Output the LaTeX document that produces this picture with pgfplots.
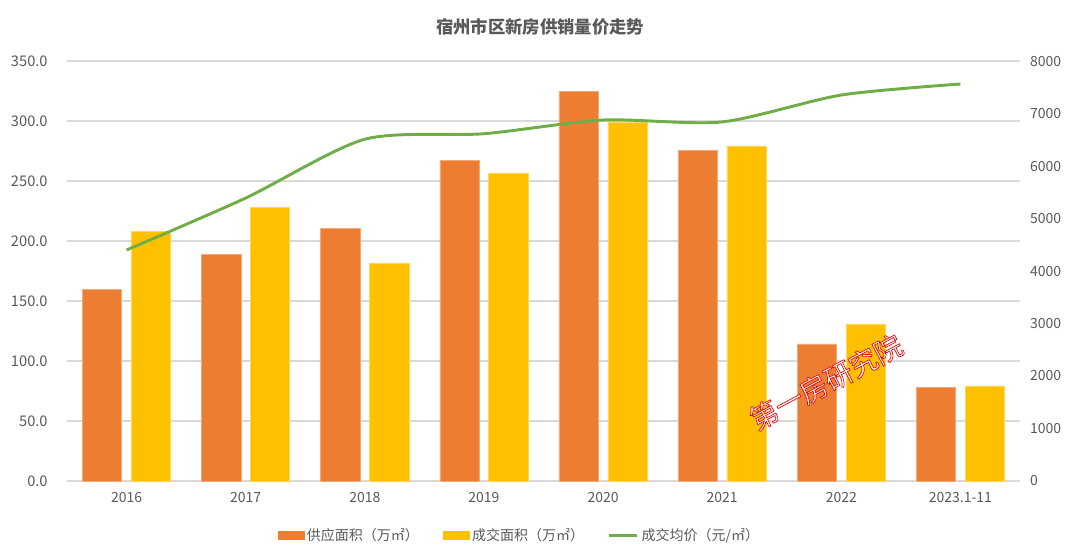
\documentclass[border=0pt]{standalone}
\usepackage{fontspec}
\setmainfont{Noto Sans CJK SC}
\usepackage{pgfplots}
\pgfplotsset{compat=1.18}
\definecolor{supc}{HTML}{ED7D31}
\definecolor{salc}{HTML}{FFC000}
\definecolor{pric}{HTML}{70AD47}
\definecolor{txtc}{HTML}{595959}
\definecolor{gridc}{HTML}{D9D9D9}

\begin{document}
\begin{tikzpicture}[x=0.75pt,y=0.75pt]
\path[use as bounding box] (0,0) rectangle (1080,558);

\pgfplotsset{
  base/.style={
    at={(50.25pt,57.75pt)}, anchor=south west,
    scale only axis, width=714.75pt, height=315pt,
    xmin=-0.5, xmax=7.5, ymin=0,
    major tick length=0pt,
    tick label style={font=\fontsize{10.5}{12}\selectfont, text=txtc},
    /pgf/number format/assume math mode=true,
  },
}

\begin{axis}[base,
  ymax=350,
  axis y line*=left, axis x line*=bottom,
  y axis line style={draw=none},
  x axis line style={draw=gridc, line width=0.8pt, -},
  ytick={0,50,...,350},
  ymajorgrids, grid style={gridc, line width=0.8pt},
  yticklabel style={xshift=-11pt, font=\fontsize{11}{12}\selectfont,
    /pgf/number format/.cd, fixed, fixed zerofill, precision=1},
  xtick={0,...,7},
  xticklabels={2016,2017,2018,2019,2020,2021,2022,2023.1-11},
  xticklabel style={yshift=-5pt},
]
\addplot[ybar, bar width=0.33, bar shift=-0.205, fill=supc, draw=supc!65!white, line width=0.5pt]
  coordinates {(0,159.5) (1,188.5) (2,210.8) (3,267.5) (4,325.0) (5,275.8) (6,114.2) (7,78.3)};
\addplot[ybar, bar width=0.33, bar shift=0.205, fill=salc, draw=salc!65!white, line width=0.5pt]
  coordinates {(0,208.3) (1,227.8) (2,181.7) (3,256.7) (4,299.2) (5,279.2) (6,130.8) (7,79.2)};
\end{axis}

\begin{axis}[base,
  ymax=8000,
  axis y line*=right, axis x line=none,
  y axis line style={draw=none},
  ytick={0,1000,...,8000},
  yticklabel style={xshift=4pt, /pgf/number format/.cd, fixed, 1000 sep={}},
  legend columns=3,
  legend style={at={(0.475,-0.129)}, anchor=center, draw=none, fill=none,
    font=\fontsize{10.5}{12}\selectfont, text=txtc,
    /tikz/every even column/.append style={column sep=16pt}},
]
\addlegendimage{legend image code/.code={\fill[supc] (0pt,-3pt) rectangle (19.5pt,3pt);}}
\addlegendentry{供应面积（万㎡）}
\addlegendimage{legend image code/.code={\fill[salc] (0pt,-3pt) rectangle (19.5pt,3pt);}}
\addlegendentry{成交面积（万㎡）}
\addplot[pric, line width=2.2pt, smooth, tension=0.45,
  legend image code/.code={\draw[pric, line width=2.2pt] (0pt,0pt) -- (21pt,0pt);}]
  coordinates {(0,4400) (1,5390) (2,6510) (3,6615) (4,6876) (5,6840) (6,7352) (7,7562)};
\addlegendentry{成交均价（元/㎡）}
\end{axis}

\node[font=\bfseries\fontsize{13}{15}\selectfont, text=txtc] at (540,531) {宿州市区新房供销量价走势};

\node[rotate=28, text=white, font=\fontsize{21}{23}\selectfont] at (826,176)
  {\special{pdf:literal direct 2 Tr 0.5 w 0.9 0 0 RG}第一房研究院\special{pdf:literal direct 0 Tr}};
\end{tikzpicture}
\end{document}
